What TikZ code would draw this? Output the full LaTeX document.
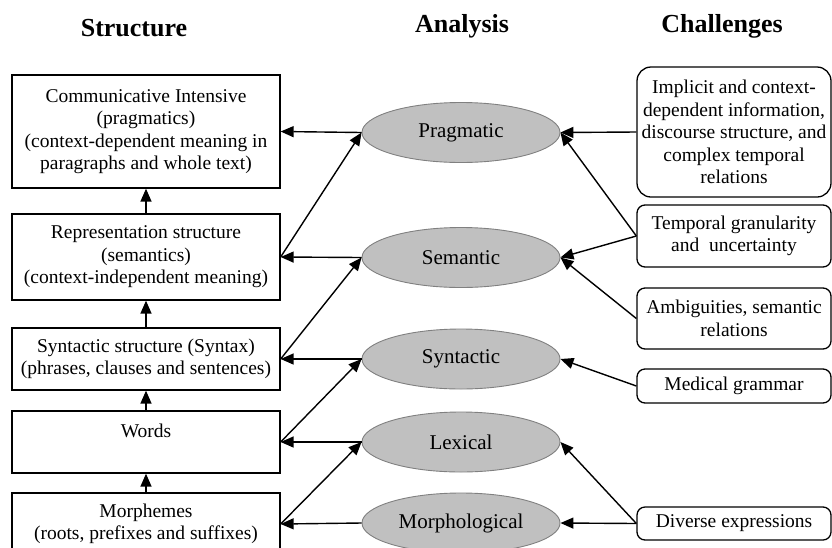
\documentclass[tikz,border=0pt]{standalone}
\usepackage{fontspec}
\setmainfont{Liberation Serif}
\usepackage{xcolor}
\usetikzlibrary{arrows.meta}
\usetikzlibrary{shapes.geometric}

\definecolor{ovalfill}{HTML}{C0C0C0}
\definecolor{ovaldraw}{HTML}{808080}

\tikzset{
    level/.style={draw, line width=1.3pt, minimum width=268pt, align=center, inner sep=2pt, font=\fontsize{19.5}{22.5}\selectfont},
    analysis/.style={ellipse, draw=ovaldraw, fill=ovalfill, line width=0.9pt, minimum width=198pt, minimum height=60pt, inner sep=0pt, font=\fontsize{21}{24}\selectfont},
    challenge/.style={draw, rounded corners=8pt, line width=1.3pt, minimum width=194pt, align=center, inner sep=2pt, font=\fontsize{19.5}{22.5}\selectfont},
    heading/.style={font=\fontsize{26}{30}\selectfont\bfseries},
    link/.style={-{Triangle[length=13pt,width=11pt]}, line width=1.4pt},
}

\begin{document}
\begin{tikzpicture}[x=1pt, y=1pt]
    \useasboundingbox (0,0) rectangle (832,-547);

    % headings
    \node[heading] (hstruct) at (134,-28) {Structure};
    \node[heading] (hanalysis) at (462,-26) {Analysis};
    \node[heading] (hchallenge) at (722,-26) {Challenges};

    % structure levels
    \node[level, minimum height=113pt] (comm) at (146,-131.5) {Communicative Intensive\\(pragmatics)\\(context-dependent meaning in\\paragraphs and whole text)};
    \node[level, minimum height=86pt] (repr) at (146,-257) {Representation structure\\(semantics)\\(context-independent meaning)};
    \node[level, minimum height=62pt] (synt) at (146,-359) {Syntactic structure (Syntax)\\(phrases, clauses and sentences)};
    \node[level, minimum height=62pt] (words) at (146,-442) {Words\\\mbox{}};
    \node[level, minimum height=62pt] (morph) at (146,-524) {Morphemes\\(roots, prefixes and suffixes)};

    % analysis
    \node[analysis] (prag) at (461,-132.5) {Pragmatic};
    \node[analysis] (sem) at (461,-257.5) {Semantic};
    \node[analysis] (syn) at (461,-359) {Syntactic};
    \node[analysis] (lex) at (461,-442) {Lexical};
    \node[analysis] (mor) at (461,-523) {Morphological};

    % challenges
    \node[challenge, rounded corners=14pt, minimum height=130pt] (implicit) at (734,-132) {Implicit and context-\\dependent information,\\discourse structure, and\\complex temporal\\relations};
    \node[challenge, minimum height=62pt] (granular) at (734,-236) {Temporal granularity\\and\ \ uncertainty};
    \node[challenge, minimum height=61pt] (ambig) at (734,-318.5) {Ambiguities, semantic\\relations};
    \node[challenge, minimum height=34pt] (grammar) at (734,-386) {Medical grammar};
    \node[challenge, minimum height=33pt] (diverse) at (734,-523.5) {Diverse expressions};

    % structure arrows
    \draw[link] (repr) -- (comm);
    \draw[link] (synt) -- (repr);
    \draw[link] (words) -- (synt);
    \draw[link] (morph) -- (words);

    % analysis to structure
    \draw[link] (prag.west) -- (comm.east);
    \draw[link] (sem.west) -- (repr.east);
    \draw[link] (syn.west) -- (synt.east);
    \draw[link] (lex.west) -- (words.east);
    \draw[link] (mor.west) -- (morph.east);
    \draw[link] (repr.east) -- (prag.west);
    \draw[link] (synt.east) -- (sem.west);
    \draw[link] (words.east) -- (syn.west);
    \draw[link] (morph.east) -- (lex.west);

    % challenges to analysis
    \draw[link] (implicit.west) -- (prag.east);
    \draw[link] (granular.west) -- (prag.east);
    \draw[link] (granular.west) -- (sem.east);
    \draw[link] (ambig.west) -- (sem.east);
    \draw[link] (grammar.west) -- (syn.east);
    \draw[link] (diverse.west) -- (lex.east);
    \draw[link] (diverse.west) -- (mor.east);
\end{tikzpicture}
\end{document}
